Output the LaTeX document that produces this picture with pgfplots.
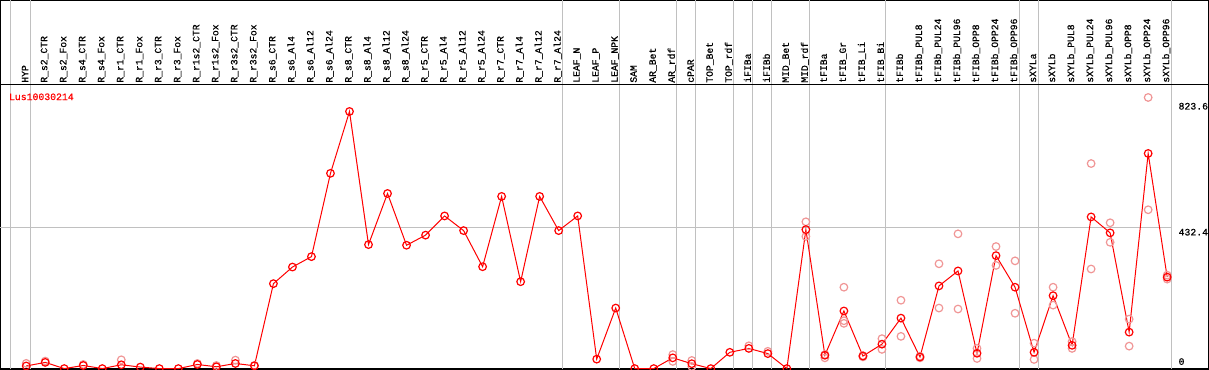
\documentclass[border=0pt]{standalone}
\usepackage{pgfplots}
\pgfplotsset{compat=1.18}
\usepackage{pgfplotstable}
\usepackage{fontspec}
\newfontfamily\labfont[FakeBold=0.6]{Liberation Mono}
\definecolor{rep}{RGB}{240,150,150}
\definecolor{grd}{RGB}{192,192,192}

\pgfplotstableread{
x y
0 8
1 19
2 0
3 9.5
4 0
5 11.7
6 4.6
7 0
8 0
9 12.6
10 5.5
11 15.7
12 8.6
13 261
14 312
15 344
16 600
17 790
18 381
19 538
20 379
21 410
22 469
23 424
24 313
25 529
26 267
27 529
28 424
29 469
30 29
31 186
32 0
33 0
34 33
35 15
36 0
37 50
38 62
39 46
40 0
41 427
42 41
43 177
44 38.5
45 75
46 155
47 35.5
48 254
49 300
50 47
51 347
52 250
53 50
54 224
55 71.5
56 466
57 417
58 112
59 661
60 281
}\main

\pgfplotstableread{
x y
0 16
1 23
3 12.6
5 27
9 15.7
10 9.5
11 26
12 10
34 43
34 22
35 25
35 6.5
38 70
39 53
41 451
41 406
42 43
42 33
43 250
43 147
43 139
44 40
44 36
45 92
45 59
46 210
46 99
47 33
47 38
48 322
48 186
49 414
49 183
50 62
50 31
51 375
51 317
52 331
52 170
53 78
53 28
54 250
54 195
55 83
55 62
56 630
56 306
57 448
57 388
58 152
58 69
59 833
59 488
60 287
60 275
}\rep

\begin{document}
\begin{tikzpicture}
\begin{axis}[
  width=1208pt, height=369pt, scale only axis,
  xmin=-1.379, xmax=62.2, ymin=-2.2, ymax=1132.5,
  axis line style={black, line width=2pt},
  xtick={0,...,60},
  xticklabels={HYP,R\_s2\_CTR,R\_s2\_Fox,R\_s4\_CTR,R\_s4\_Fox,R\_r1\_CTR,R\_r1\_Fox,R\_r3\_CTR,R\_r3\_Fox,R\_r1s2\_CTR,R\_r1s2\_Fox,R\_r3s2\_CTR,R\_r3s2\_Fox,R\_s6\_CTR,R\_s6\_Al4,R\_s6\_Al12,R\_s6\_Al24,R\_s8\_CTR,R\_s8\_Al4,R\_s8\_Al12,R\_s8\_Al24,R\_r5\_CTR,R\_r5\_Al4,R\_r5\_Al12,R\_r5\_Al24,R\_r7\_CTR,R\_r7\_Al4,R\_r7\_Al12,R\_r7\_Al24,LEAF\_N,LEAF\_P,LEAF\_NPK,SAM,AR\_Bet,AR\_rdf,cPAR,TOP\_Bet,TOP\_rdf,iFIBa,iFIBb,MID\_Bet,MID\_rdf,tFIBa,tFIB\_Gr,tFIB\_Li,tFIB\_Bi,tFIBb,tFIBb\_PUL8,tFIBb\_PUL24,tFIBb\_PUL96,tFIBb\_OPP8,tFIBb\_OPP24,tFIBb\_OPP96,sXYLa,sXYLb,sXYLb\_PUL8,sXYLb\_PUL24,sXYLb\_PUL96,sXYLb\_OPP8,sXYLb\_OPP24,sXYLb\_OPP96},
  xticklabel pos=upper,
  xticklabel shift=-82.8pt,
  xticklabel style={font=\labfont\fontsize{9.7}{10}\selectfont, xshift=2pt, rotate=90, anchor=base west, inner sep=0pt},
  major tick length=0pt,
  ytick=\empty,
  extra x ticks={-0.84,0.21,28.21,31.21,34.21,35.21,37.21,38.21,39.21,41.21,45.21,52.21,53.21,60.21},
  extra x tick labels={},
  extra x tick style={grid=major, major grid style={grd, line width=1pt}},
]
\draw[grd, line width=1pt] (axis cs:-1.379,432.4) -- (axis cs:60.21,432.4);
\draw[black, line width=1.5pt] (rel axis cs:0,0.771) -- (rel axis cs:1,0.771);
\addplot[only marks, mark=o, mark size=3.8pt, mark options={draw=rep, line width=1.2pt}] table[x=x,y=y] {\rep};
\addplot[red, line width=1pt, mark=o, mark size=3.8pt, mark options={draw=red, line width=1.2pt}] table[x=x,y=y] {\main};
\node[anchor=west, inner sep=0pt, text=red, font=\labfont\fontsize{9.8}{10}\selectfont] at (axis cs:-0.916,835) {Lus10030214};
\node[anchor=west, inner sep=0pt, font=\labfont\fontsize{9.8}{10}\selectfont] at (axis cs:60.59,806) {823.6};
\node[anchor=west, inner sep=0pt, font=\labfont\fontsize{9.8}{10}\selectfont] at (axis cs:60.59,419) {432.4};
\node[anchor=west, inner sep=0pt, font=\labfont\fontsize{9.8}{10}\selectfont] at (axis cs:60.59,21.5) {0};
\end{axis}
\pgfresetboundingbox
\useasboundingbox (current axis.south west) rectangle (current axis.north east);
\end{tikzpicture}
\end{document}
